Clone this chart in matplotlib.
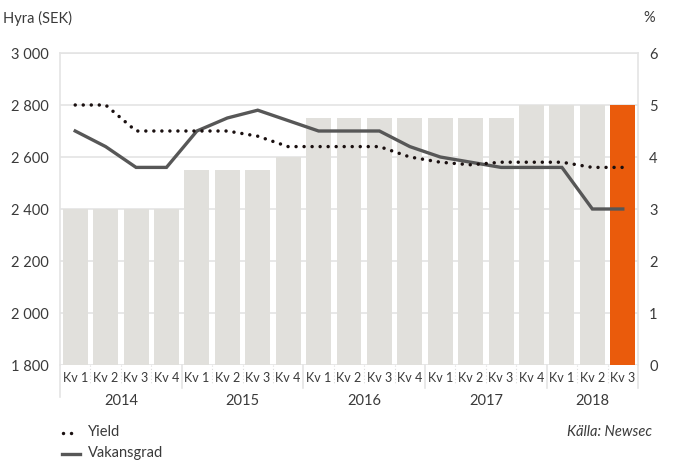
import matplotlib
matplotlib.use("Agg")
import matplotlib.pyplot as plt
import matplotlib.transforms as mtransforms
from matplotlib.lines import Line2D
import numpy as np

plt.rcParams['font.family'] = ['Lato', 'DejaVu Sans']

years = ['2014', '2015', '2016', '2017', '2018']
quarters = ['Kv 1', 'Kv 2', 'Kv 3', 'Kv 4'] * 4 + ['Kv 1', 'Kv 2', 'Kv 3']
hyra = [2400, 2400, 2400, 2400,
        2550, 2550, 2550, 2600,
        2750, 2750, 2750, 2750,
        2750, 2750, 2750, 2800,
        2800, 2800, 2800]
yield_pct = [5.0, 5.0, 4.5, 4.5,
             4.5, 4.5, 4.4, 4.2,
             4.2, 4.2, 4.2, 4.0,
             3.9, 3.85, 3.9, 3.9,
             3.9, 3.8, 3.8]
vakansgrad = [4.5, 4.2, 3.8, 3.8,
              4.5, 4.75, 4.9, 4.7,
              4.5, 4.5, 4.5, 4.2,
              4.0, 3.9, 3.8, 3.8,
              3.8, 3.0, 3.0]

text_col = '#3a3a3a'
bar_col = '#e1e0dc'
hl_col = '#ea5b0c'
grid_col = '#e4e4e4'
line_col = '#575757'

fig = plt.figure(figsize=(6.78, 4.61), dpi=100)
W, H = 678, 461
ax = fig.add_axes([60 / W, (H - 365) / H, (638 - 60) / W, (365 - 53) / H])
n = len(hyra)
x = np.arange(n)
colors = [bar_col] * (n - 1) + [hl_col]
ax.bar(x, np.array(hyra) - 1800, bottom=1800, width=0.82, color=colors, zorder=2)
ax.set_xlim(-0.5, n - 0.5)
ax.set_ylim(1800, 3000)
ax.set_yticks(range(1800, 3001, 200))
ax.set_yticklabels([f"{v // 1000} {v % 1000:03d}" for v in range(1800, 3001, 200)])
ax.grid(axis='y', color=grid_col, linewidth=1.2, zorder=0)
ax.set_axisbelow(True)
ax.tick_params(axis='y', length=0, pad=8, labelsize=10.5, labelcolor=text_col)
ax.set_xticks(x)
ax.set_xticklabels(quarters)
ax.tick_params(axis='x', length=0, pad=5, labelsize=9, labelcolor=text_col)
for s in ['left', 'top', 'right']:
    ax.spines[s].set_color(grid_col)
    ax.spines[s].set_linewidth(1.2)
ax.spines['bottom'].set_visible(False)

ax2 = ax.twinx()
ax2.set_ylim(0, 6)
ax2.set_yticks(range(0, 7))
ax2.tick_params(axis='y', length=0, pad=8, labelsize=10.5, labelcolor=text_col)
for s in ax2.spines.values():
    s.set_visible(False)
ax2.plot(x, vakansgrad, color=line_col, linewidth=2.4, solid_joinstyle='miter', zorder=3)
ax2.plot(x, yield_pct, color='#1a1010', linewidth=2.5, linestyle=(0, (0.01, 2.3)),
         dash_capstyle='round', zorder=4)

trans = mtransforms.blended_transform_factory(ax.transData, ax.transAxes)
px = 1.0 / (365 - 53)
for i in range(1, n):
    if i % 4 == 0:
        ax.plot([i - 0.5, i - 0.5], [0, -23 * px], color=grid_col, lw=1.2,
                transform=trans, clip_on=False)
    else:
        ax.plot([i - 0.5, i - 0.5], [0, -20 * px], color='#dddddd', lw=0.8,
                linestyle=(0, (1, 2)), transform=trans, clip_on=False)
ax.plot([-0.5, -0.5], [0, -32 * px], color=grid_col, lw=1.2, transform=trans, clip_on=False)
ax.plot([n - 0.5, n - 0.5], [0, -23 * px], color=grid_col, lw=1.2, transform=trans, clip_on=False)

for k, yr in enumerate(years):
    start = 4 * k
    end = min(4 * k + 3, n - 1)
    ax.text((start + end) / 2, -36 * px, yr, transform=trans, ha='center', va='center',
            fontsize=10.5, color=text_col)

fig.text(3 / W, 1 - 18 / H, 'Hyra (SEK)', ha='left', va='center', fontsize=10.5, color=text_col)
fig.text(643 / W, 1 - 18 / H, '%', ha='left', va='center', fontsize=10.5, color=text_col)
fig.text(652 / W, 1 - 432 / H, 'Källa: Newsec', ha='right', va='center', fontsize=10.5,
         style='italic', color=text_col)

fig.add_artist(Line2D([63 / W, 79 / W], [1 - 433 / H, 1 - 433 / H], color='#1a1010',
                      linewidth=2.5, linestyle=(0, (0.01, 2.3)), dash_capstyle='round',
                      transform=fig.transFigure))
fig.text(88 / W, 1 - 432 / H, 'Yield', ha='left', va='center', fontsize=10.5, color=text_col)
fig.add_artist(Line2D([62 / W, 80 / W], [1 - 454 / H, 1 - 454 / H], color=line_col,
                      linewidth=2.4, transform=fig.transFigure))
fig.text(88 / W, 1 - 453 / H, 'Vakansgrad', ha='left', va='center', fontsize=10.5, color=text_col)

fig.savefig('out.png', dpi=100)
